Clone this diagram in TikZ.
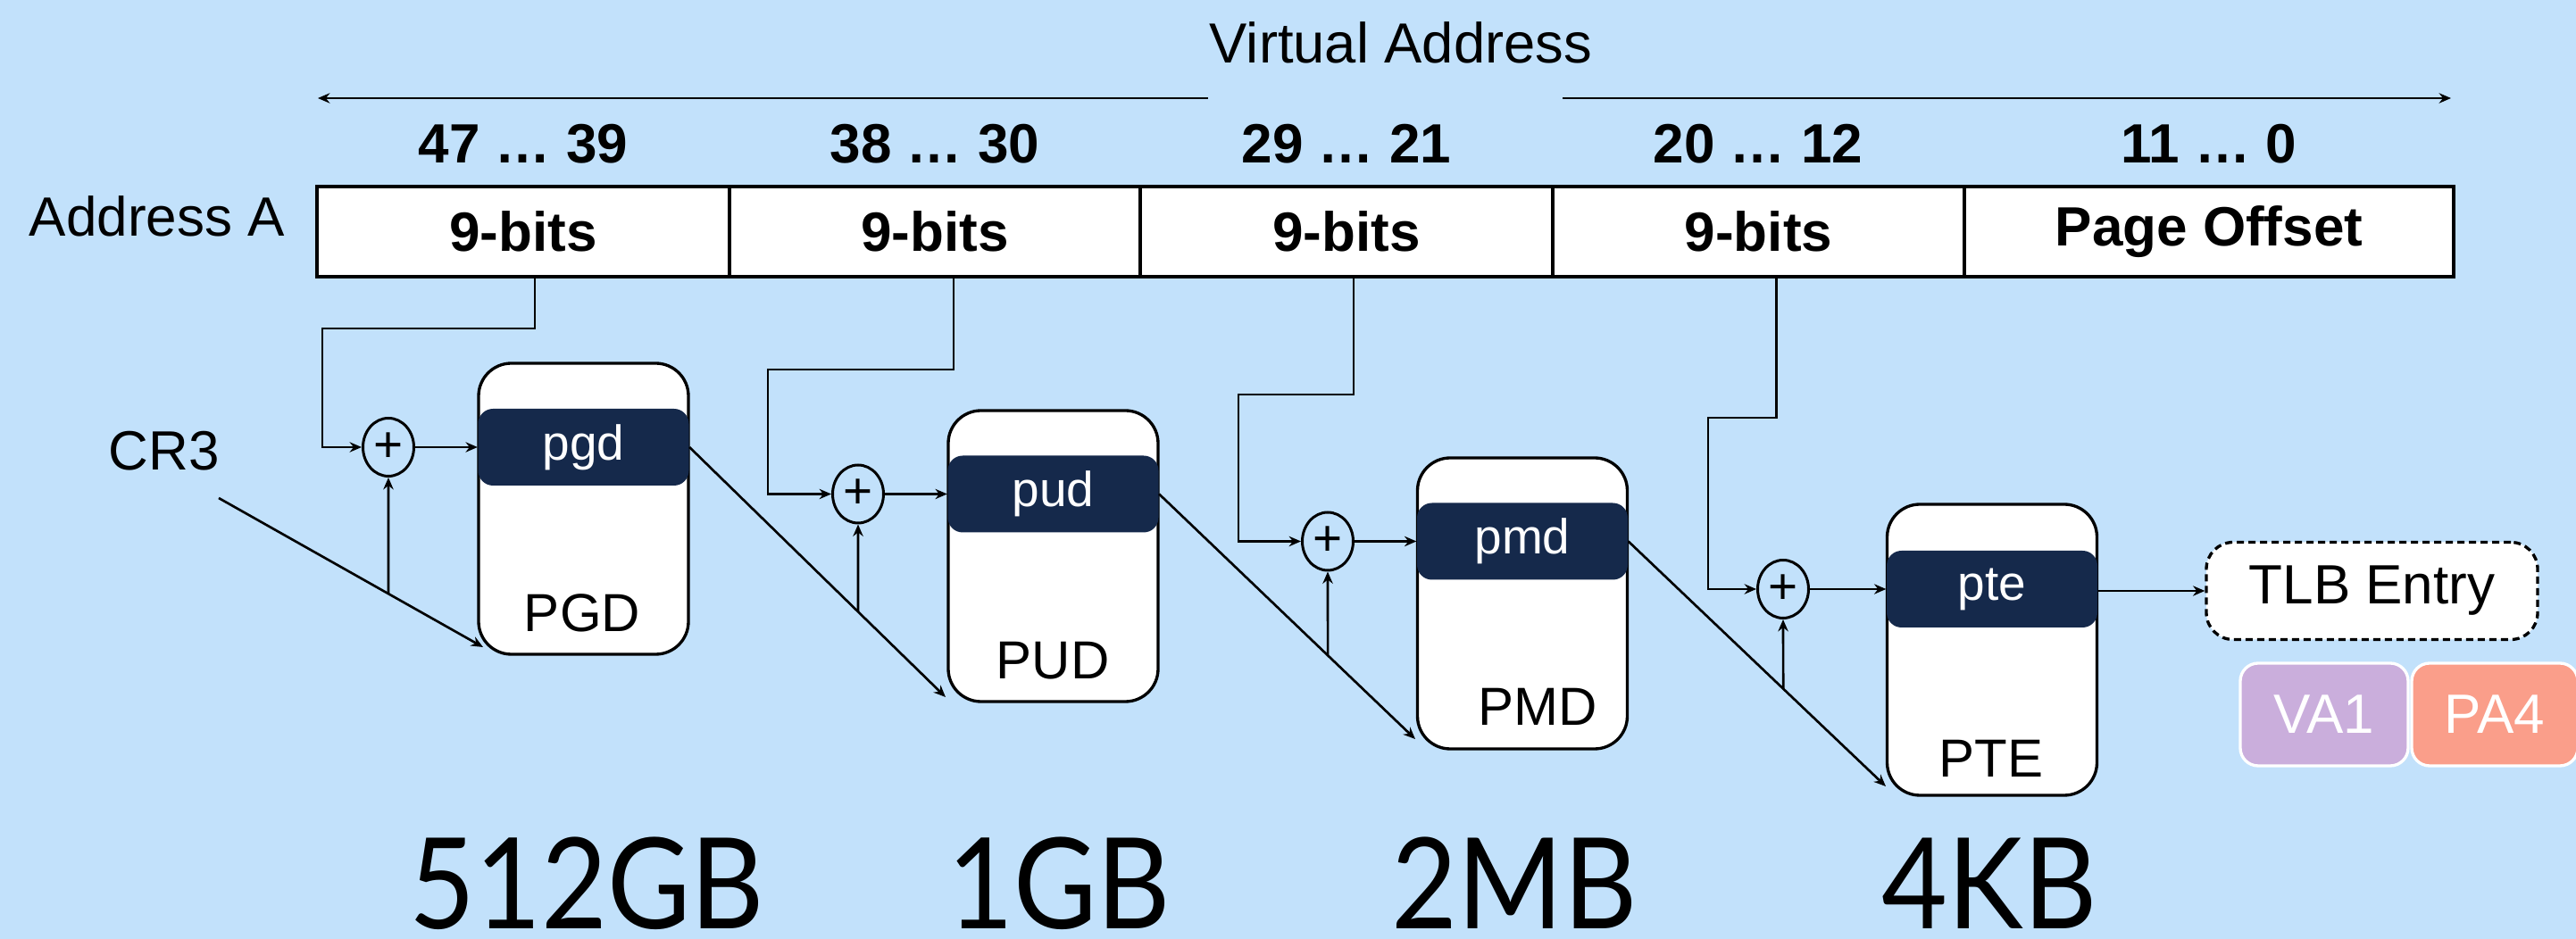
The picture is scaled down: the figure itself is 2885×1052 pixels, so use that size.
\documentclass[tikz,border=0pt]{standalone}
\usepackage{fontspec}
\setmainfont{Liberation Sans}
\newfontfamily\bigsizefont[FakeStretch=0.9]{Lato}
\usetikzlibrary{arrows.meta,shapes.geometric,calc}
\newcommand\myfs[1]{\fontsize{#1}{#1}\selectfont}
\definecolor{bgblue}{RGB}{194,225,251}
\definecolor{navy}{RGB}{21,41,75}
\definecolor{vacol}{RGB}{202,174,220}
\definecolor{pacol}{RGB}{250,158,138}
\tikzset{
  conn/.style={line width=0.8pt,-{Stealth[length=4pt,width=3.4pt]}},
  cell/.style={draw,line width=1pt,fill=white,minimum width=#1*0.3pt,minimum height=101*0.3pt,inner sep=0pt,font=\bfseries\myfs{18.6pt}},
  bits/.style={font=\bfseries\myfs{18.6pt},inner sep=0pt},
  lbl/.style={font=\myfs{18.6pt},inner sep=0pt},
  tbl/.style={draw,line width=1pt,fill=white,rounded corners=11pt,minimum width=235*0.3pt,minimum height=326*0.3pt,inner sep=0pt},
  band/.style={fill=navy,text=white,rounded corners=5pt,minimum width=236*0.3pt,minimum height=86*0.3pt,inner sep=0pt,font=\myfs{16.5pt}},
  tname/.style={font=\myfs{18pt},inner sep=0pt},
  plus/.style={draw,ellipse,line width=0.9pt,minimum width=57*0.3pt,minimum height=65*0.3pt,inner sep=0pt,font=\myfs{17pt}},
  tlbbox/.style={draw,dashed,dash pattern=on 2.4pt off 1.5pt,line width=1pt,fill=white,rounded corners=9pt,minimum width=371*0.3pt,minimum height=109*0.3pt,inner sep=0pt,font=\myfs{18.6pt}},
  tag/.style={draw=white,line width=1pt,text=white,rounded corners=6pt,minimum width=#1*0.3pt,minimum height=115*0.3pt,inner sep=0pt,font=\myfs{18.6pt}},
  size/.style={font=\bigsizefont\myfs{42.5pt},anchor=base,inner sep=0pt},
}
\begin{document}
\begin{tikzpicture}[x=0.3pt,y=-0.3pt]
\fill[bgblue] (0,0) rectangle (2885,1052);
\useasboundingbox (0,0) rectangle (2885,1052);

% header
\node[lbl,font=\myfs{19pt}] (va) at (1569,48) {Virtual Address};
\coordinate (la) at (1353,110);
\coordinate (le) at (356,110);
\coordinate (ra) at (1750,110);
\coordinate (re) at (2745,110);
\draw[conn] (la) -- (le);
\draw[conn] (ra) -- (re);

\node[bits] (b1) at (586,161) {47 … 39};
\node[bits] (b2) at (1047,161) {38 … 30};
\node[bits] (b3) at (1508,161) {29 … 21};
\node[bits] (b4) at (1969,161) {20 … 12};
\node[bits] (b5) at (2474,161) {11 … 0};

\node[lbl] (addr) at (176,242) {Address A};

\node[cell=462] (c1) at (586,259.5) {9-bits};
\node[cell=460] (c2) at (1047,259.5) {9-bits};
\node[cell=462] (c3) at (1508,259.5) {9-bits};
\node[cell=461] (c4) at (1969.5,259.5) {9-bits};
\node[cell=548] (c5) at (2474,259.5) {Page Offset};

% tables
\node[tbl] (PGDbox) at (653.5,570) {};
\node[band] (pgd) at (653.5,501) {pgd};
\node[tname] (PGDt) at (652,687) {PGD};

\node[tbl] (PUDbox) at (1179.5,623) {};
\node[band] (pud) at (1179.5,553.5) {pud};
\node[tname] (PUDt) at (1179,740) {PUD};

\node[tbl] (PMDbox) at (1705,676) {};
\node[band] (pmd) at (1705,606.5) {pmd};
\node[tname] (PMDt) at (1722,792) {PMD};

\node[tbl] (PTEbox) at (2231,728) {};
\node[band] (pte) at (2231,660) {pte};
\node[tname] (PTEt) at (2230,850) {PTE};

% adders
\node[plus] (p1) at (435,501) {+};
\node[plus] (p2) at (961,553.5) {+};
\node[plus] (p3) at (1487,606.5) {+};
\node[plus] (p4) at (1997,660) {+};

% index lines
\draw[conn] ([xshift=3.9pt]c1.south) |- (361,368) |- (p1.west);
\draw[conn] ([xshift=6.3pt]c2.south) |- (860,414) |- (p2.west);
\draw[conn] ([xshift=2.4pt]c3.south) |- (1387,442) |- (p3.west);
\draw[conn] ([xshift=6pt]c4.south) |- (1913,468) |- (p4.west);

\draw[conn] (p1.east) -- (pgd.west);
\draw[conn] (p2.east) -- (pud.west);
\draw[conn] (p3.east) -- (pmd.west);
\draw[conn] (p4.east) -- (pte.west);

% CR3 and base pointers
\node[lbl] (cr3) at (184,505) {CR3};
\coordinate (cr3o) at (245,558);
\coordinate (pgdin) at (541,725);
\coordinate (pudin) at (1059,781);
\coordinate (pmdin) at (1585,828);
\coordinate (ptein) at (2112,881);

\draw[conn] (cr3o) -- (pgdin);
\draw[conn] (pgd.east) -- (pudin);
\draw[conn] (pud.east) -- (pmdin);
\draw[conn] (pmd.east) -- (ptein);

\coordinate (j1) at (intersection of cr3o--pgdin and p1.north--p1.south);
\coordinate (j2) at (intersection of pgd.east--pudin and p2.north--p2.south);
\coordinate (j3) at (intersection of pud.east--pmdin and p3.north--p3.south);
\coordinate (j4) at (intersection of pmd.east--ptein and p4.north--p4.south);
\draw[conn] (j1) -- (p1.south);
\draw[conn] (j2) -- (p2.south);
\draw[conn] (j3) -- (p3.south);
\draw[conn] (j4) -- (p4.south);

% TLB
\node[tlbbox] (tlb) at (2656.5,662) {TLB Entry};
\draw[conn] (pte.east |- tlb.west) -- (tlb.west);
\node[tag=188,fill=vacol] (va1) at (2603,800.5) {VA1};
\node[tag=186,fill=pacol] (pa4) at (2794,800.5) {PA4};

% sizes
\node[size] (s1) at (657,1041) {512GB};
\node[size] (s2) at (1186,1041) {1GB};
\node[size] (s3) at (1696,1041) {2MB};
\node[size] (s4) at (2228,1041) {4KB};
\end{tikzpicture}
\end{document}
